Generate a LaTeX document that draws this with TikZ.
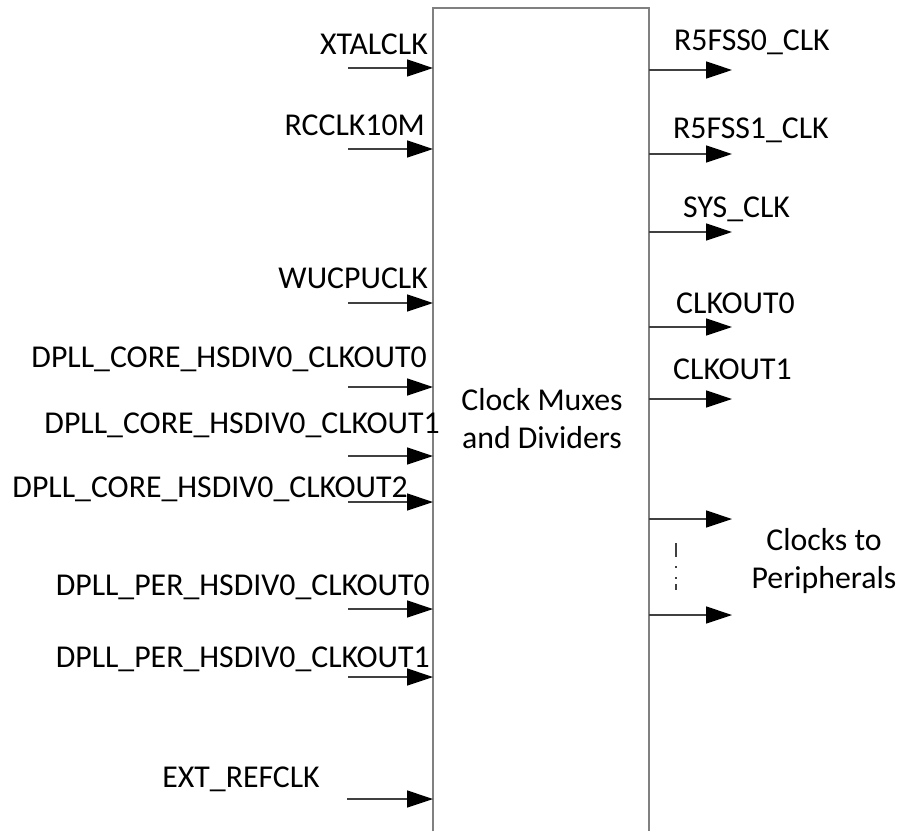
\documentclass[tikz,border=0pt]{standalone}
\usepackage{fontspec}
\setmainfont{Carlito}
\usetikzlibrary{arrows.meta}
\definecolor{shaft}{RGB}{64,64,64}
\definecolor{boxgray}{RGB}{128,128,128}
\begin{document}
\begin{tikzpicture}[x=1pt,y=-1pt,
  lbl/.style={inner sep=0pt, font=\fontsize{31.8}{38}\selectfont},
  lblin/.style={lbl, anchor=base east},
  lblout/.style={lbl, anchor=base west},
  boxline/.style={draw=boxgray, line width=2pt},
  sig/.style={draw=shaft, line width=1.5pt, -{Triangle[length=26pt,width=17pt,color=black]}}]
\useasboundingbox (0,0) rectangle (901,831);
\node[minimum width=216pt, minimum height=823pt, inner sep=0pt, anchor=north west] (box) at (433,8) {};
\draw[boxline] (box.south west) -- (box.north west) -- (box.north east) -- (box.south east);
\node[lbl, align=center, anchor=base] (title) at (542,448) {Clock Muxes\\and Dividers};
% inputs
\coordinate (i1) at (348,68);
\coordinate (i2) at (348,149);
\coordinate (i3) at (348,303);
\coordinate (i4) at (348,387);
\coordinate (i5) at (348,456);
\coordinate (i6) at (348,502);
\coordinate (i7) at (348,609);
\coordinate (i8) at (348,677);
\coordinate (i9) at (347,799);
\foreach \n in {1,...,9} {\draw[sig] (i\n) -- (i\n -| box.west);}
\node[lblin] (l1) at (428,54) {XTALCLK};
\node[lblin] (l2) at (425,135) {RCCLK10M};
\node[lblin] (l3) at (428,288) {WUCPUCLK};
\node[lblin] (l4) at (427,367) {DPLL\_CORE\_HSDIV0\_CLKOUT0};
\node[lblin] (l5) at (440,433) {DPLL\_CORE\_HSDIV0\_CLKOUT1};
\node[lblin] (l6) at (408,497) {DPLL\_CORE\_HSDIV0\_CLKOUT2};
\node[lblin] (l7) at (430,595) {DPLL\_PER\_HSDIV0\_CLKOUT0};
\node[lblin] (l8) at (430,667) {DPLL\_PER\_HSDIV0\_CLKOUT1};
\node[lblin] (l9) at (320,787) {EXT\_REFCLK};
% outputs
\coordinate (o1) at (732,70);
\coordinate (o2) at (732,154);
\coordinate (o3) at (732,232);
\coordinate (o4) at (732,327);
\coordinate (o5) at (732,399);
\coordinate (o6) at (732,519);
\coordinate (o7) at (732,615);
\foreach \n in {1,...,7} {\draw[sig] (o\n -| box.east) -- (o\n);}
\node[lblout] (r1) at (674,50) {R5FSS0\_CLK};
\node[lblout] (r2) at (673,138) {R5FSS1\_CLK};
\node[lblout] (r3) at (683,217) {SYS\_CLK};
\node[lblout] (r4) at (676,313) {CLKOUT0};
\node[lblout] (r5) at (673,379) {CLKOUT1};
\node[lbl, align=center, anchor=base] (per) at (824,588) {Clocks to\\Peripherals};
\draw[shaft, line width=1.5pt, dash pattern=on 14pt off 9pt on 2pt off 9pt on 2pt off 5pt on 8pt] (676,543) -- (676,590);
\end{tikzpicture}
\end{document}
